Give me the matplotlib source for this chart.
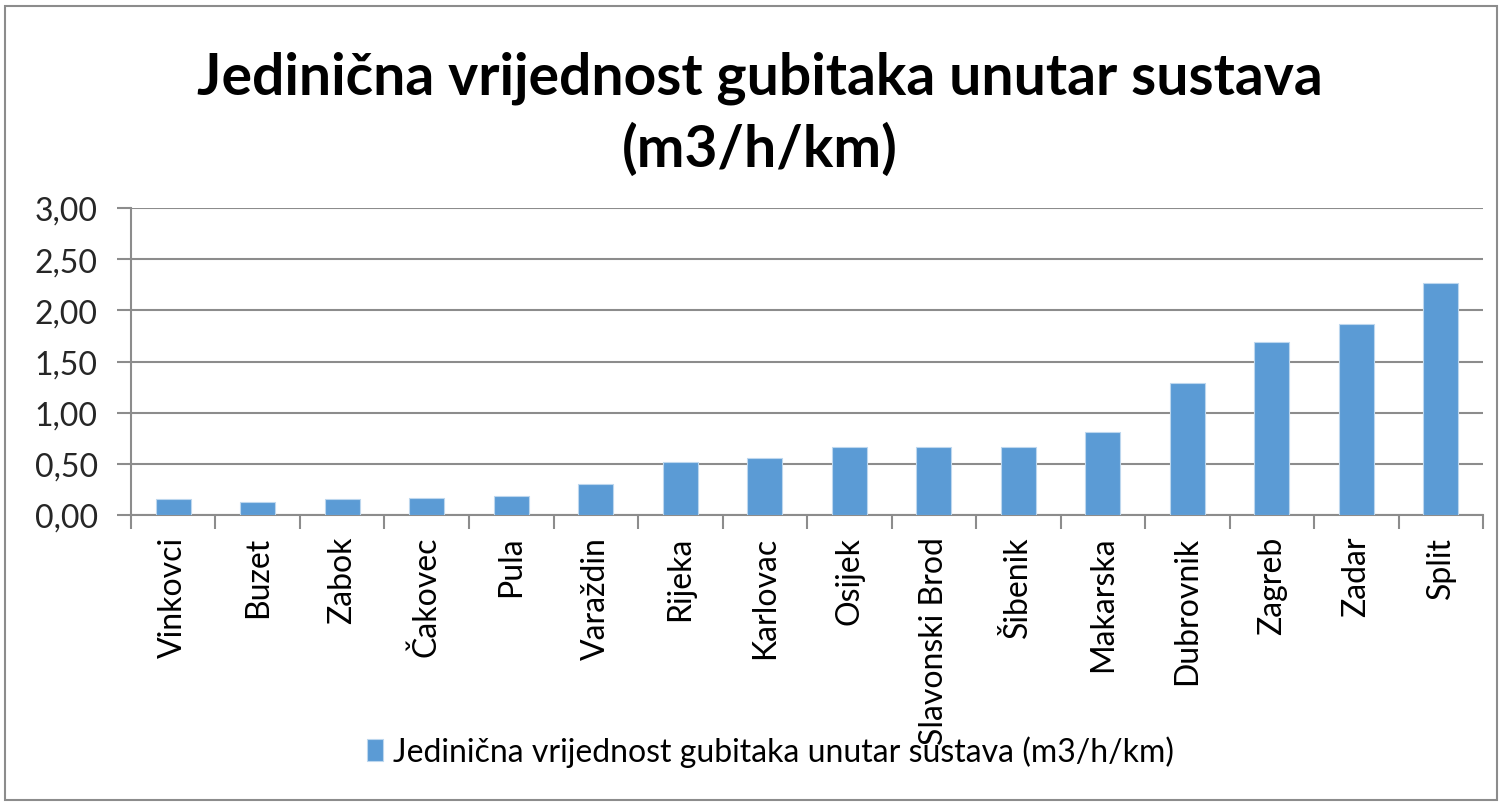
import matplotlib.pyplot as plt
from matplotlib.patches import Rectangle
import numpy as np

# values
cities = ['Vinkovci', 'Buzet', 'Zabok', 'Čakovec', 'Pula', 'Varaždin', 'Rijeka',
          'Karlovac', 'Osijek', 'Slavonski Brod', 'Šibenik', 'Makarska',
          'Dubrovnik', 'Zagreb', 'Zadar', 'Split']
losses = [0.16, 0.13, 0.16, 0.17, 0.19, 0.30, 0.52, 0.56, 0.66, 0.66, 0.66,
          0.81, 1.29, 1.69, 1.87, 2.27]
y_ticks = [0.0, 0.5, 1.0, 1.5, 2.0, 2.5, 3.0]
title_lines = ['Jedinična vrijednost gubitaka unutar sustava', '(m3/h/km)']
series_name = 'Jedinična vrijednost gubitaka unutar sustava (m3/h/km)'

plt.rcParams['font.family'] = ['Lato', 'DejaVu Sans']

bar_color = '#5b9bd5'
grid_color = '#8c8c8c'

fig = plt.figure(figsize=(15.02, 8.03), dpi=100)
ax = fig.add_axes([0.0872, 0.3574, 0.9002, 0.3823])

x = np.arange(len(cities))
ax.bar(x, losses, width=0.41, color=bar_color, edgecolor='#bdd7ee',
       linewidth=0.8, label=series_name, zorder=3)

ax.set_xlim(-0.5, len(cities) - 0.5)
ax.set_ylim(0, 3.0)
ax.set_yticks(y_ticks)
ax.set_yticklabels([f'{v:.2f}'.replace('.', ',') for v in y_ticks],
                   fontsize=23, color='#262626')
ax.yaxis.grid(True, color=grid_color, linewidth=1.5, zorder=0)

# category labels at bar centres, tick marks between categories
ax.set_xticks(x)
ax.set_xticklabels(cities, rotation=90, fontsize=23, color='#000000')
ax.tick_params(axis='x', length=0, pad=15)
ax.set_xticks(np.arange(-0.5, len(cities)), minor=True)
ax.tick_params(axis='x', which='minor', length=10, width=1.5, color=grid_color)
ax.tick_params(axis='y', length=10, width=1.5, color=grid_color, pad=14)

for side in ['top', 'right']:
    ax.spines[side].set_visible(False)
for side in ['left', 'bottom']:
    ax.spines[side].set_color(grid_color)
    ax.spines[side].set_linewidth(1.5)

# two-line title, each line placed on its own baseline
for line, y in zip(title_lines, [0.882, 0.792]):
    fig.text(0.506, y, line, ha='center', va='baseline', fontsize=41,
             fontweight='bold')

fig.legend(loc='center', bbox_to_anchor=(0.513, 0.063), frameon=False,
           fontsize=23, handlelength=0.5, handleheight=0.7, handletextpad=0.3)

# outer chart border
fig.patches.append(Rectangle((0.003, 0.003), 0.994, 0.988, transform=fig.transFigure,
                             fill=False, edgecolor='#8c8c8c', linewidth=1.5))

fig.savefig('out.png', dpi=100)
